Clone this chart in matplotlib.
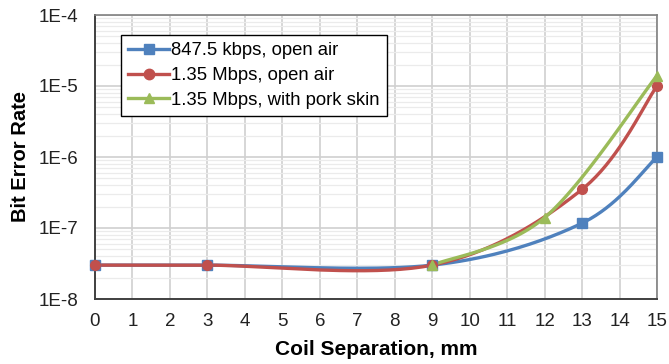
import numpy as np
import matplotlib
matplotlib.use("Agg")
import matplotlib.pyplot as plt
from matplotlib.lines import Line2D
from matplotlib.ticker import LogLocator, FixedLocator, NullFormatter

plt.rcParams['font.family'] = ['Liberation Sans', 'DejaVu Sans']

# Measured bit error rates vs coil separation
sep_847 = [0, 3, 9, 13, 15]
ber_847 = [3.0e-8, 3.0e-8, 3.0e-8, 1.17e-7, 1.0e-6]

sep_135 = [0, 3, 9, 13, 15]
ber_135 = [3.0e-8, 3.0e-8, 3.0e-8, 3.5e-7, 1.0e-5]

sep_pork = [9, 12, 15]
ber_pork = [3.0e-8, 1.4e-7, 1.4e-5]

series_labels = ["847.5 kbps, open air", "1.35 Mbps, open air", "1.35 Mbps, with pork skin"]
colors = ["#4F81BD", "#C0504D", "#9BBB59"]
markers = ["s", "o", "^"]
x_ticks = list(range(0, 16))
y_ticks = [1e-8, 1e-7, 1e-6, 1e-5, 1e-4]
y_tick_labels = ["1E-8", "1E-7", "1E-6", "1E-5", "1E-4"]


def smooth(xs, ys, n=40):
    """Cardinal (Catmull-Rom) Bezier smoothing in (x, log10 y) space."""
    xs = np.asarray(xs, float)
    ly = np.log10(np.asarray(ys, float))
    pts = np.column_stack([xs, ly])
    out = []
    m = len(pts)
    for i in range(m - 1):
        p0 = pts[max(i - 1, 0)]
        p1 = pts[i]
        p2 = pts[i + 1]
        p3 = pts[min(i + 2, m - 1)]
        c1 = p1 + (p2 - p0) / 6.0
        c2 = p2 - (p3 - p1) / 6.0
        t = np.linspace(0, 1, n)[:, None]
        seg = ((1 - t) ** 3) * p1 + 3 * ((1 - t) ** 2) * t * c1 + 3 * (1 - t) * t ** 2 * c2 + t ** 3 * p2
        out.append(seg if i == 0 else seg[1:])
    seg = np.vstack(out)
    return seg[:, 0], 10 ** seg[:, 1]


fig = plt.figure(figsize=(6.69, 3.64), dpi=100)
ax = fig.add_axes([95 / 669, 1 - 299 / 364, 562 / 669, 284 / 364])

data = [(sep_847, ber_847), (sep_135, ber_135), (sep_pork, ber_pork)]
for (xs, ys), c, mk in zip(data, colors, markers):
    sx, sy = smooth(xs, ys)
    ax.plot(sx, sy, color=c, lw=2.4, solid_capstyle='round', zorder=3, clip_on=False)
    ax.plot(xs, ys, ls='none', marker=mk, ms=7.5 if mk != 'o' else 7, color=c,
            markeredgecolor=c, zorder=4, clip_on=False)

ax.set_yscale('log')
ax.set_xlim(0, 15)
ax.set_ylim(1e-8, 1e-4)
ax.xaxis.set_major_locator(FixedLocator(x_ticks))
ax.set_xticklabels([str(v) for v in x_ticks])
ax.yaxis.set_major_locator(FixedLocator(y_ticks))
ax.set_yticklabels(y_tick_labels)
ax.yaxis.set_minor_locator(LogLocator(base=10, subs=np.arange(2, 10), numticks=20))
ax.yaxis.set_minor_formatter(NullFormatter())

ax.grid(True, which='major', color='#D0D0D0', lw=1.2, zorder=0)
ax.grid(True, which='minor', axis='y', color='#EBEBEB', lw=0.9, zorder=0)
ax.set_axisbelow(True)
ax.tick_params(which='both', length=0, labelsize=13.5, colors='#222222')
ax.tick_params(axis='y', pad=12)
ax.tick_params(axis='x', pad=10)

for side in ['top', 'right']:
    ax.spines[side].set_color('#808080')
    ax.spines[side].set_linewidth(1.2)
for side in ['left', 'bottom']:
    ax.spines[side].set_color('#404040')
    ax.spines[side].set_linewidth(1.4)

ax.set_xlabel("Coil Separation, mm", fontsize=15, fontweight='bold', labelpad=7)
ax.set_ylabel("Bit Error Rate", fontsize=14.5, fontweight='bold', labelpad=6)

handles = [Line2D([], [], color=c, lw=2.4, marker=mk, ms=7.5, markeredgecolor=c)
           for c, mk in zip(colors, markers)]
leg = ax.legend(handles, series_labels, loc='upper left', bbox_to_anchor=(0.046, 0.93),
                fontsize=13.3, frameon=True, fancybox=False, framealpha=1,
                edgecolor='black', handlelength=2.2, handletextpad=0.1,
                borderpad=0.4, labelspacing=0.42, borderaxespad=0)
leg.get_frame().set_linewidth(1.0)

fig.savefig("out.png", dpi=100)
